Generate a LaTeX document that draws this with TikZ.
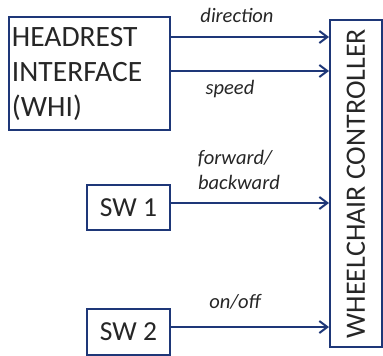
\documentclass[tikz,border=0pt]{standalone}
\usepackage{fontspec}
\setmainfont{Carlito}
\usetikzlibrary{arrows.meta}
\definecolor{wcblue}{RGB}{30,55,120}
\tikzset{
	block/.style={draw=wcblue, line width=2pt, text=black!85, font=\fontsize{27.5}{35}\selectfont},
	signal/.style={text=black!85, font=\fontsize{20.5}{25}\selectfont\itshape, inner sep=0pt},
	link/.style={draw=wcblue, line width=2pt, -{Straight Barb[length=8pt,width=12pt,line width=2pt]}}
}

\begin{document}
\begin{tikzpicture}[x=1pt, y=-1pt]
			%%%%% START %%%%%
			\useasboundingbox (0, 0) rectangle (383, 356);
			
			\node[block, font=\fontsize{29.5}{35}\selectfont, minimum width=161pt, minimum height=113pt, inner xsep=2pt, text width=155pt, align=left] (whi) at (89.5, 73.5) {HEADREST\\INTERFACE\\(WHI)};
			\node[block, minimum width=83pt, minimum height=45pt] (sw1) at (128.5, 207.5) {SW 1};
			\node[block, minimum width=83pt, minimum height=46pt] (sw2) at (128.5, 332) {SW 2};
			
			\node[block, font=\fontsize{28}{35}\selectfont, rotate=90, minimum width=327pt, minimum height=52pt, inner sep=0pt] (ctrl) at (356, 183.5) {WHEELCHAIR CONTROLLER};
			
			\draw[link] ([yshift=36.5pt]whi.east) -- ([yshift=36.5pt]whi.east -| ctrl.north);
			\draw[link] ([yshift=2.5pt]whi.east) -- ([yshift=2.5pt]whi.east -| ctrl.north);
			\draw[link] ([yshift=4.5pt]sw1.east) -- ([yshift=4.5pt]sw1.east -| ctrl.north);
			\draw[link] ([yshift=5pt]sw2.east) -- ([yshift=5pt]sw2.east -| ctrl.north);
			
			\node[signal] (dirlbl) at (237, 15) {direction};
			\node[signal] (spdlbl) at (230, 89) {speed};
			\node[signal, align=center] (fwdlbl) at (235, 170) {forward/\\\hspace*{8pt}backward};
			\node[signal] (onlbl) at (235, 302) {on/off};
			
			%%%%% END %%%%%
\end{tikzpicture}
\end{document}
